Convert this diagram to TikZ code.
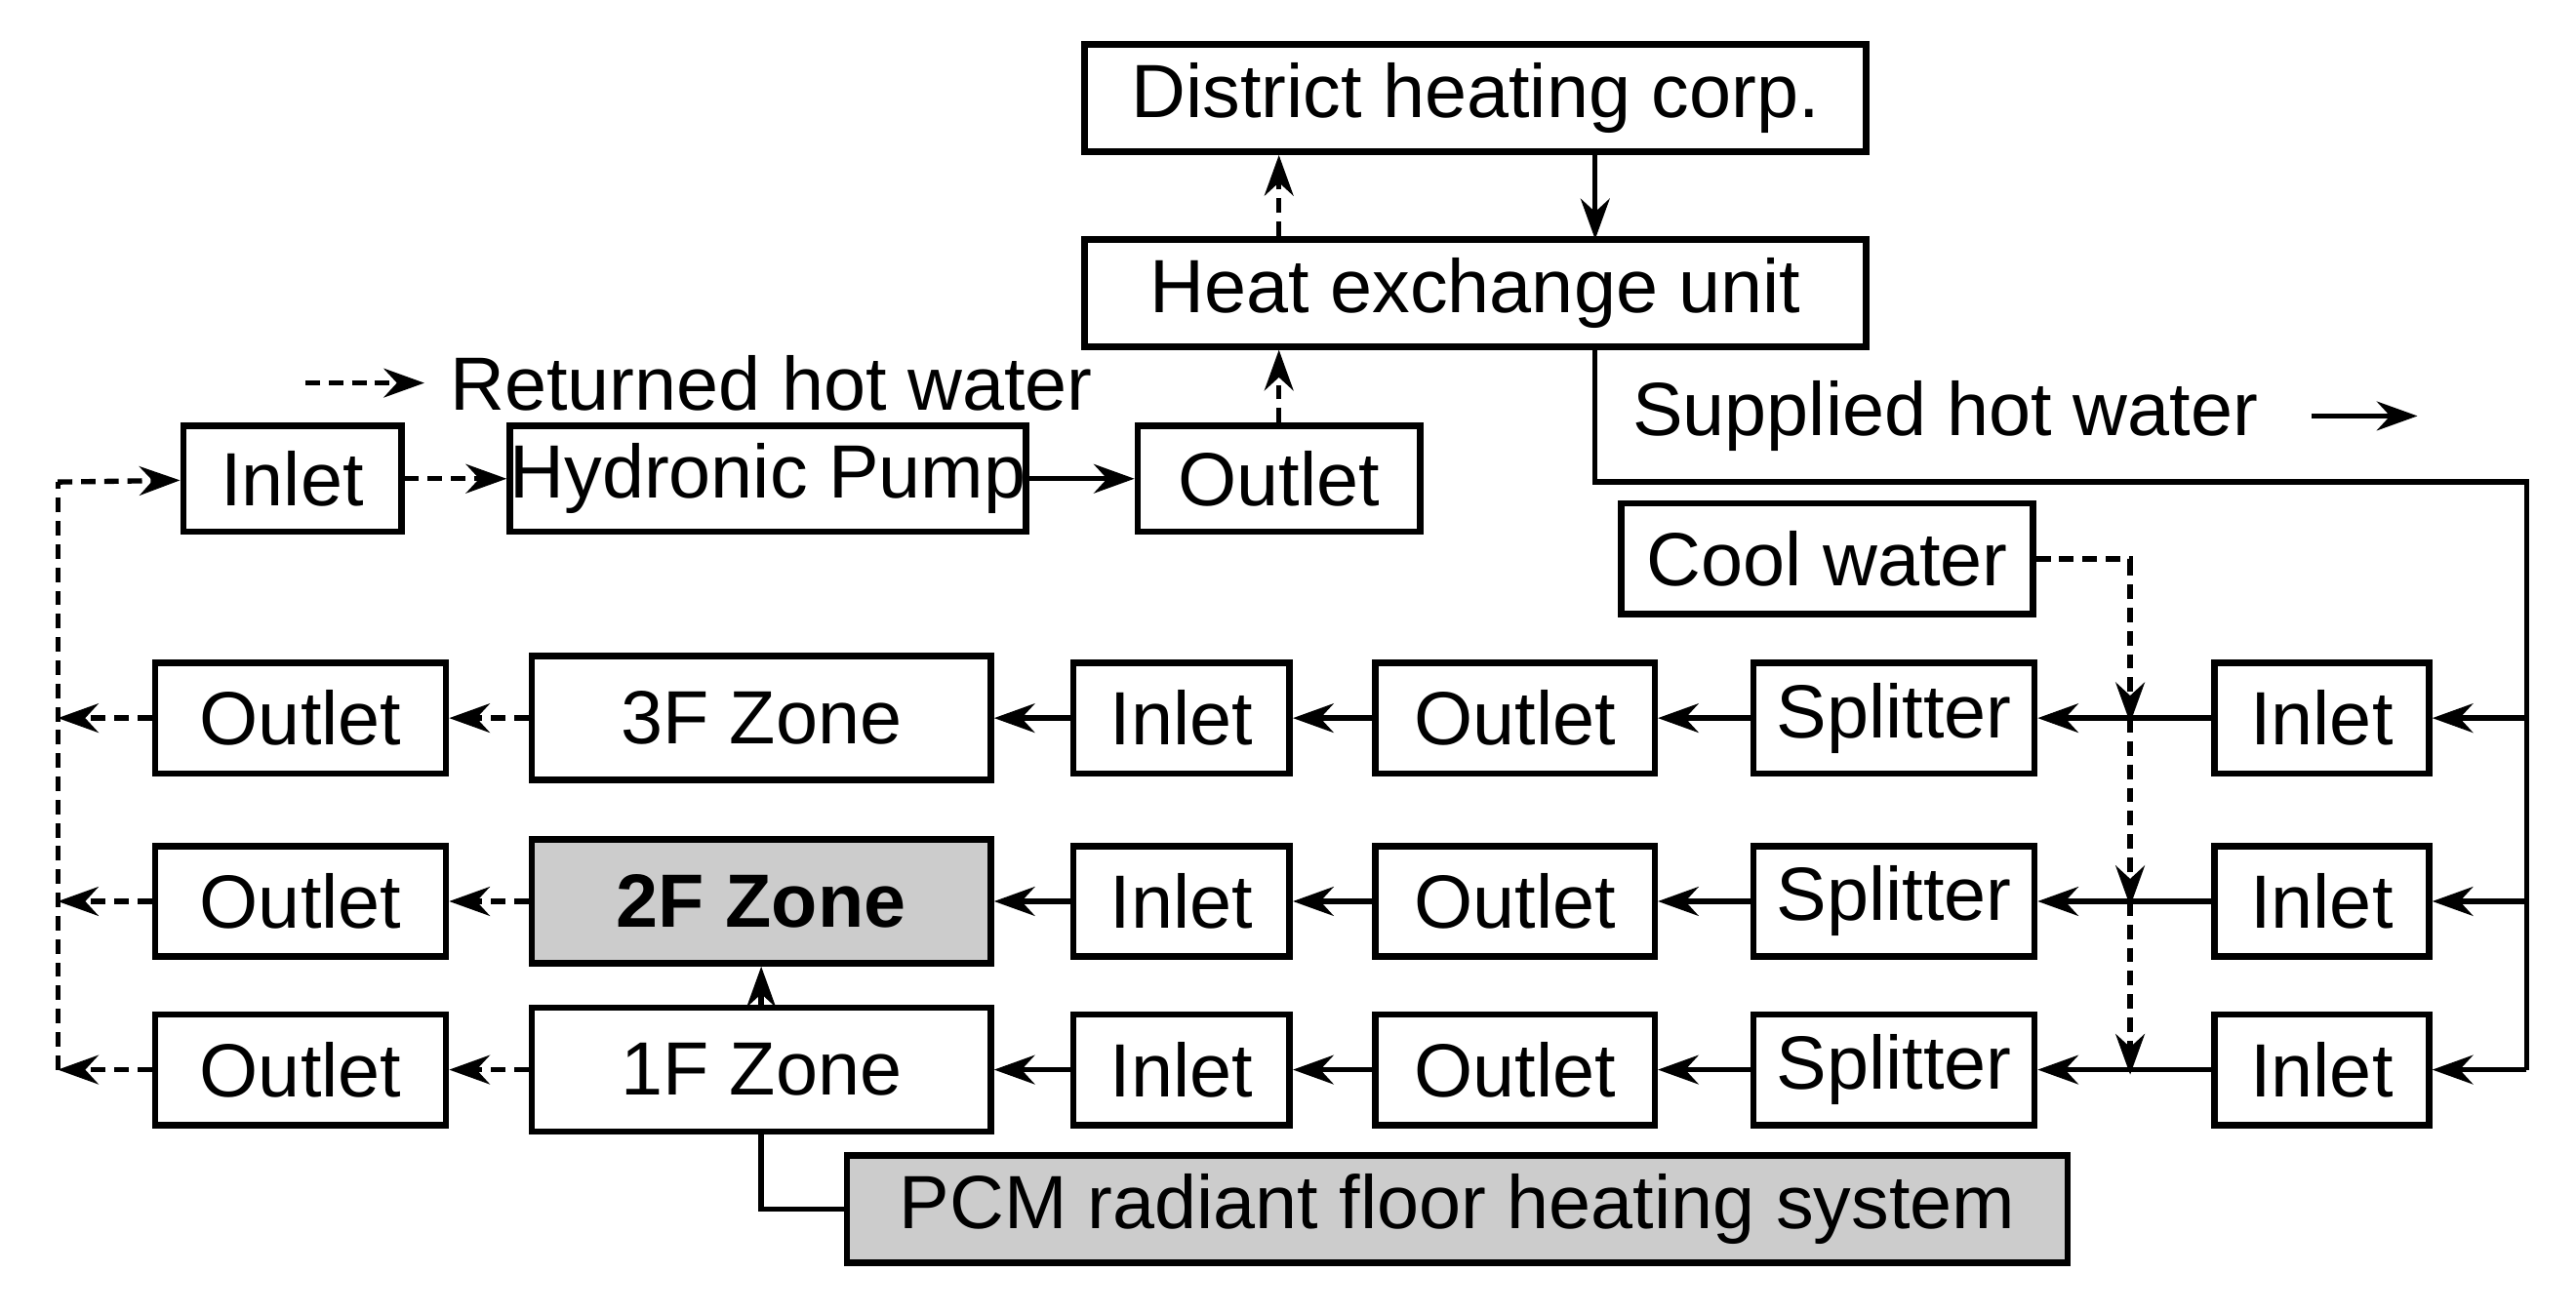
\documentclass[tikz,border=0pt]{standalone}
\usepackage{fontspec}
\setmainfont{Liberation Sans}
\usetikzlibrary{arrows.meta}
\begin{document}
\begin{tikzpicture}[x=0.01cm,y=-0.01cm,
  bx/.style={draw,line width=1.1pt,inner sep=0pt,font=\fontsize{13}{15}\selectfont},
  sa/.style={line width=0.9pt,-{Stealth[length=7pt,width=5pt]}},
  da/.style={sa,dash pattern=on 2.5pt off 1.5pt},
  gf/.style={fill=black!20}]
\useasboundingbox (0,0) rectangle (1560,795);
\node[bx,minimum width=4.73cm,minimum height=0.65cm] (dh) at (893.5,59.5) {District heating corp.};
\node[bx,minimum width=4.73cm,minimum height=0.65cm] (hx) at (893.5,177.5) {Heat exchange unit};
\node[bx,minimum width=1.32cm,minimum height=0.64cm] (in0) at (177,290) {Inlet};
\node[bx,minimum width=3.08cm,minimum height=0.64cm] (hp) at (465,290) {Hydronic Pump};
\node[bx,minimum width=1.71cm,minimum height=0.64cm] (out0) at (774.5,290) {Outlet};
\node[bx,minimum width=2.49cm,minimum height=0.67cm] (cw) at (1106.5,338.5) {Cool water};
\node[bx,gf,minimum width=7.39cm,minimum height=0.65cm] (pcm) at (882.5,732.5) {PCM radiant floor heating system};
\foreach \r/\y/\z/\zs in {3/435/3F Zone/,2/546/\textbf{2F Zone}/gf,1/648/1F Zone/}{
  \node[bx,minimum width=1.76cm,minimum height=0.67cm] (lo\r) at (182,\y) {Outlet};
  \node[bx,\zs,minimum width=2.78cm,minimum height=0.75cm] (z\r) at (461,\y) {\z};
  \node[bx,minimum width=1.31cm,minimum height=0.67cm] (ia\r) at (715.5,\y) {Inlet};
  \node[bx,minimum width=1.69cm,minimum height=0.67cm] (ob\r) at (917.5,\y) {Outlet};
  \node[bx,minimum width=1.70cm,minimum height=0.67cm] (sp\r) at (1147,\y) {Splitter};
  \node[bx,minimum width=1.30cm,minimum height=0.67cm] (ir\r) at (1406,\y) {Inlet};
  \coordinate (e\r) at (1530,\y);
  \coordinate (w\r) at (35,\y);
  \coordinate (c\r) at (1290,\y);
  \draw[sa] (e\r) -- (ir\r);
  \draw[sa] (ir\r) -- (sp\r);
  \draw[sa] (sp\r) -- (ob\r);
  \draw[sa] (ob\r) -- (ia\r);
  \draw[sa] (ia\r) -- (z\r);
  \draw[da] (z\r) -- (lo\r);
  \draw[da] (lo\r) -- (w\r);
}
% legend
\coordinate (l1) at (185,232); \coordinate (l2) at (257,232);
\draw[da] (l1) -- (l2);
\node[anchor=west,font=\fontsize{13}{15}\selectfont,inner sep=0pt] (rt) at (272,232) {Returned hot water};
\node[anchor=west,font=\fontsize{13}{15}\selectfont,inner sep=0pt] (st) at (988,252) {Supplied hot water};
\coordinate (s1) at (1400,252); \coordinate (s2) at (1464,252);
\draw[sa] (s1) -- (s2);
% top connections
\draw[da] (out0.north) -- (hx.south -| out0.north);
\draw[da] (hx.north -| out0.north) -- (dh.south -| out0.north);
\coordinate (x1) at (966,92);
\draw[sa] (x1) -- (966,145);
\draw[da] (in0) -- (hp);
\draw[sa] (hp) -- (out0);
% supply line
\draw[line width=0.9pt] (hx.south -| x1) |- (1530,292) -- (e1);
% return line
\coordinate (w0) at (35,292);
\draw[da,-] (w1) -- (w0);
\draw[da] (w0) -- (in0);
% cool water
\draw[da,-] (cw.east) -| (1290,340);
\draw[da] (1290,340) -- ([yshift=-0.03cm]c3);
\draw[da] (c3) -- ([yshift=-0.03cm]c2);
\draw[da] (c2) -- ([yshift=-0.03cm]c1);
% zone links
\draw[sa] (z1) -- (z2);
\draw[line width=0.9pt] (z1.south) |- (pcm.west);
\end{tikzpicture}
\end{document}
